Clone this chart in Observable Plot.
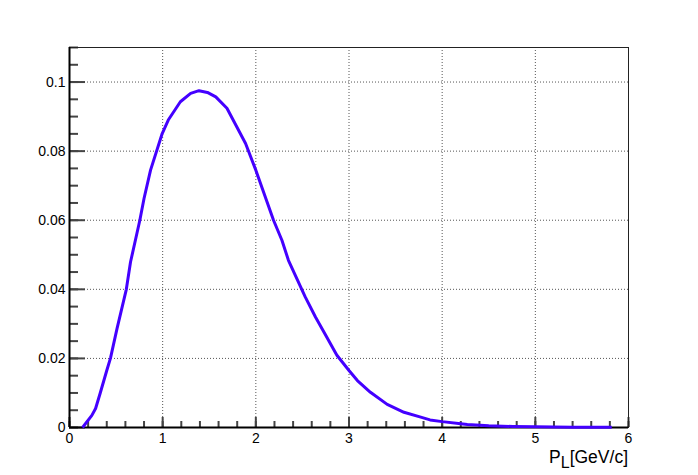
<!DOCTYPE html>
<html>
<head>
<meta charset="utf-8">
<script src="https://cdn.jsdelivr.net/npm/d3@7"></script>
<script src="https://cdn.jsdelivr.net/npm/@observablehq/plot@0.6"></script>
<style>
  html, body { margin: 0; padding: 0; background: #fff; }
  #chart svg { display: block; }
</style>
</head>
<body>
<div id="chart"></div>
<script>
// P_L values (GeV/c)
const pL = [0.14, 0.24, 0.28, 0.33, 0.40, 0.44, 0.51, 0.61, 0.655, 0.755, 0.80, 0.87, 0.995, 1.06, 1.19, 1.30, 1.39, 1.48, 1.57, 1.69, 1.89, 2.00, 2.19, 2.28, 2.35, 2.44, 2.53, 2.64, 2.75, 2.87, 3.00, 3.09, 3.23, 3.41, 3.59, 3.77, 3.87, 4.00, 4.20, 4.27, 4.50, 4.76, 5.00, 5.40, 5.82];
const density = [0, 0.0035, 0.0055, 0.0100, 0.0165, 0.0201, 0.0286, 0.0400, 0.0479, 0.0600, 0.0663, 0.0745, 0.0851, 0.0890, 0.0943, 0.0967, 0.0975, 0.0970, 0.0957, 0.0924, 0.0822, 0.0745, 0.0600, 0.0542, 0.0484, 0.0431, 0.0378, 0.0320, 0.0267, 0.0209, 0.0165, 0.0136, 0.0102, 0.0067, 0.0044, 0.0030, 0.0022, 0.0017, 0.0011, 0.0009, 0.0005, 0.0003, 0.0002, 0.0001, 0.0001];

const xTicks = [0, 1, 2, 3, 4, 5, 6];
const yTicks = [0, 0.02, 0.04, 0.06, 0.08, 0.1];
const yTickLabels = ["0", "0.02", "0.04", "0.06", "0.08", "0.1"];
const xMinorTicks = d3.range(0, 31).map(i => i * 0.2);
const yMinorTicks = d3.range(0, 23).map(i => i * 0.005);
const xTitleMain = "P";
const xTitleSub = "L";
const xTitleRest = "[GeV/c]";

const data = pL.map((x, i) => ({x, y: density[i]}));
const font = "'Liberation Sans', Arial, Helvetica, sans-serif";

const chart = Plot.plot({
  width: 698,
  height: 475,
  marginLeft: 69,
  marginRight: 70,
  marginTop: 47,
  marginBottom: 48,
  style: {fontFamily: font, fontSize: "14px", color: "#000", background: "#fff"},
  x: {domain: [0, 6]},
  y: {domain: [0, 0.11]},
  marks: [
    Plot.gridX(xTicks.slice(1, -1), {stroke: "#555", strokeOpacity: 1, strokeDasharray: "1,2", strokeWidth: 1}),
    Plot.gridY(yTicks.slice(1), {stroke: "#555", strokeOpacity: 1, strokeDasharray: "1,2", strokeWidth: 1}),
    // minor ticks (inside)
    Plot.axisX({ticks: xMinorTicks, tickSize: -6, tickFormat: null, label: null, stroke: "#444", strokeWidth: 2, text: null}),
    Plot.axisY({ticks: yMinorTicks, tickSize: -9, tickFormat: null, label: null, stroke: "#444", strokeWidth: 2, text: null}),
    // major ticks (inside)
    Plot.axisX({ticks: xTicks, tickSize: -10, tickFormat: null, label: null, stroke: "#444", strokeWidth: 2, text: null}),
    Plot.axisY({ticks: yTicks, tickSize: -16, tickFormat: null, label: null, stroke: "#444", strokeWidth: 2, text: null}),
    // labels
    Plot.axisX({ticks: xTicks, tickSize: 0, tickPadding: 6, label: null, tickFormat: d => String(d), fontSize: 14}),
    Plot.axisY({ticks: yTicks, tickSize: 0, tickPadding: 4, label: null, tickFormat: d => yTickLabels[yTicks.indexOf(d)], fontSize: 14}),
    Plot.frame({stroke: "#222", strokeWidth: 1}),
    Plot.ruleX([0], {stroke: "#000", strokeWidth: 2}),
    Plot.ruleY([0], {stroke: "#000", strokeWidth: 2}),
    Plot.line(data, {x: "x", y: "y", stroke: "#4400ff", strokeWidth: 3, strokeLinejoin: "round", strokeLinecap: "butt"})
  ]
});

// axis title with subscript, right-aligned at the frame's right edge
const svg = d3.select(chart);
const t = svg.append("text")
  .attr("x", 628)
  .attr("y", 463)
  .attr("text-anchor", "end")
  .attr("font-family", font)
  .attr("font-size", 17.5)
  .attr("fill", "#000");
t.append("tspan").text(xTitleMain);
t.append("tspan").attr("font-size", 16).attr("dy", 5).text(xTitleSub);
t.append("tspan").attr("dy", -5).text(xTitleRest);

document.getElementById("chart").appendChild(chart);
</script>
</body>
</html>
